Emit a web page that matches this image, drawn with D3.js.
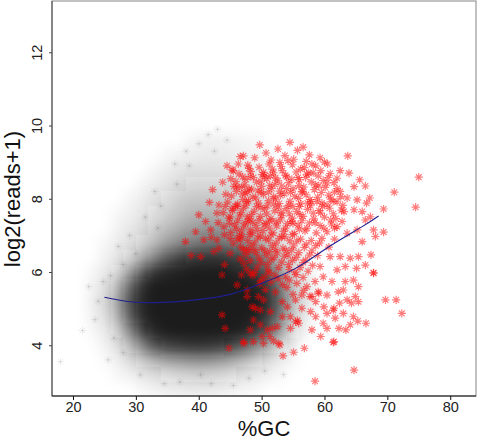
<!DOCTYPE html>
<html><head><meta charset="utf-8">
<script src="https://cdn.jsdelivr.net/npm/d3@7"></script>
<style>
body{margin:0;background:#fff}
svg{display:block}
text{font-family:"Liberation Sans",Arial,Helvetica,sans-serif}
</style>
</head><body>
<svg id="c" width="486" height="440"></svg>
<script>
// ---- data ----
const xTicks = [20, 30, 40, 50, 60, 70, 80];
const yTicks = [4, 6, 8, 10, 12];
const xLabel = "%GC";
const yLabel = "log2(reads+1)";

// density of the dense black cloud (percent darkness), binned by %GC and log2(reads+1)
const gcBins = [23, 25, 27, 29, 31, 33, 35, 37, 39, 41, 43, 45, 47, 49, 51, 53, 55, 57, 59];
const readBins = [2.8, 3.2, 3.6, 4.0, 4.4, 4.8, 5.2, 5.6, 6.0, 6.4, 6.8, 7.2, 7.6, 8.0, 8.4, 8.8, 9.2, 9.6];
const blackDensity = [
  [0,0,0,0,3,5,7,8,9,9,8,6,4,3,0,0,0,0,0],
  [0,0,3,6,10,14,17,20,22,22,20,17,13,9,6,3,0,0,0],
  [0,2,6,14,25,35,42,45,48,48,45,40,32,24,15,8,3,0,0],
  [0,5,12,30,55,75,85,88,90,90,88,82,72,55,38,20,8,0,0],
  [3,8,22,50,82,96,100,100,100,100,100,100,98,90,72,42,16,5,0],
  [5,12,32,70,95,100,100,100,100,100,100,100,100,98,88,58,25,8,0],
  [6,15,38,75,96,100,100,100,100,100,100,100,100,100,92,65,30,10,3],
  [5,12,30,65,92,100,100,100,100,100,100,100,100,97,88,60,28,10,3],
  [3,8,18,40,70,90,96,98,100,100,100,98,95,88,70,42,20,8,0],
  [0,5,10,20,35,55,72,82,88,90,90,88,80,66,48,28,14,5,0],
  [0,3,7,12,20,30,42,50,58,62,62,58,50,40,28,16,8,3,0],
  [0,0,5,9,14,22,30,36,42,45,45,42,36,28,20,12,6,0,0],
  [0,0,3,6,10,16,22,28,32,34,33,30,25,20,14,8,4,0,0],
  [0,0,0,4,7,12,17,22,25,25,25,22,18,14,10,6,3,0,0],
  [0,0,0,0,4,7,11,15,18,18,18,15,12,10,7,4,0,0,0],
  [0,0,0,0,0,4,7,10,12,12,12,10,9,7,5,3,0,0,0],
  [0,0,0,0,0,0,3,5,7,8,8,7,6,5,3,0,0,0,0],
  [0,0,0,0,0,0,0,0,4,6,6,5,4,3,0,0,0,0,0]
];

// sparse black genes around the dense cloud [%GC, log2(reads+1)]
const blackOutliers = [
  [18,3.55],[25.6,3.6],[30.7,3.19],[40.3,3.19],[24.8,5.74],[41.5,9.75],[36.2,8.95],
  [31.5,7.5],[27.2,6.7],[23.5,4.7],[22.5,5.6],[34.5,2.95],[45.5,2.9],[50.5,3.3],
  [53.5,3.2],[43,9.9],[38,9.3],[29,7.0],[21.5,4.4],[33,8.2],
  [34,7.8],[36.5,8.4],[38.5,8.9],[40,9.5],[42.5,9.3],[44.5,9.6],[33.5,7.2],[30,6.5],
  [28,6.2],[26,5.9],[24,5.2],[26.5,4.2],[28,3.8],[37,3.0],[42,2.95],[48,3.1]
];

// highlighted (red) genes [%GC, log2(reads+1)]
const redPoints = [
  [49.7,9.47],[54.5,9.54],[52.6,9.36],[56.6,9.41],[55.7,9.32],[57.6,9.2],[47.1,9.17],[51.5,9.06],
  [54.2,9.04],[52.9,8.99],[58.0,8.95],[60.0,9.0],[60.5,8.95],[63.7,9.17],[45.5,8.77],[50.3,8.72],
  [48.2,8.61],[51.7,8.81],[56.2,8.81],[57.5,8.7],[59.4,8.77],[62.5,8.77],[63.9,8.7],[62.0,8.56],
  [65.6,8.52],[66.5,8.35],[64.7,8.33],[60.4,8.43],[58.6,8.38],[62.5,8.2],[67.2,8.02],[66.7,7.88],
  [65.2,7.97],[63.6,8.02],[62.0,7.92],[66.0,7.65],[64.7,7.7],[63.1,7.65],[67.3,7.51],[66.5,7.42],
  [67.8,7.15],[65.2,7.15],[68.1,6.97],[66.0,6.83],[63.6,7.06],[62.0,7.24],[61.0,7.42],[59.4,7.61],
  [58.8,7.92],[60.4,7.83],
  [75.0,8.59],[71.1,8.18],[74.5,7.77],[69.4,7.72],[69.4,7.09],[69.7,5.24],[71.4,5.24],[72.3,4.87],
  [58.5,3.02],[64.7,3.32],[56.8,3.92],[55.1,3.81],[53.4,3.71],[61.4,4.08],[66.6,4.6],
  [65.4,6.42],[67.4,6.47],[66.5,6.19],[67.8,5.97],[65.1,6.1],[64.6,5.78],[63.3,5.74],[65.4,5.6],
  [63.0,5.51],[64.9,5.33],[63.6,5.24],[62.2,5.46],[64.3,5.15],[62.4,5.15],[65.4,5.19],[60.4,5.37],
  [61.2,5.74],[62.0,6.06],[63.3,6.15],[64.1,6.38],[62.5,6.42],[60.9,6.42],[59.3,6.15],[59.8,5.87],
  [58.5,5.74],[59.0,5.46],[57.7,5.33],[61.4,4.96],[63.0,4.87],[60.4,4.87],[64.6,4.78],
  [65.3,4.66],[61.5,4.1],[52.9,4.01],[51.9,4.12],[51.3,4.24],[50.1,4.24],[48.7,4.1],[47.1,4.1],
  [48.2,4.42],[48.7,4.69],[58.0,4.42],[59.4,4.24],[60.4,4.46],[62.3,4.46],[63.4,4.42],[64.1,4.56],
  [61.7,4.74],[59.8,4.6],[58.6,4.78],[59.9,5.05],[61.5,5.01],[57.8,4.92],[55.4,4.64],[55.7,4.68],
  [55.9,4.6],[54.6,4.46],[56.4,5.01],[56.4,5.37],[58.0,5.33],[59.1,5.42],[58.6,5.19],[57.2,5.6],
  [55.6,5.69],[54.1,5.05],[53.3,5.19],[53.3,4.78],[52.5,4.51],[50.9,4.42],[49.8,4.56],[48.5,5.05],
  [49.8,4.96],[51.4,4.92],[49.5,5.33],[54.6,4.78],[47.7,5.33],[55.4,5.24],[67.8,5.98],
  [43.7,4.83],[44.2,4.46],[44.8,3.92],[47.2,4.05],[49.0,5.01],[50.3,5.24],[47.7,5.51],[43.7,5.92],
  [48.2,5.97],[46.1,5.65],[52.7,4.05],[50.3,4.05],[51.7,4.46],
  [37.9,6.83],[40.0,7.56],[41.1,7.38],[43.2,7.83],[44.2,7.79],[42.9,7.61],[41.9,7.15],[44.0,7.24],
  [45.0,7.51],[46.1,7.79],[46.1,8.33],[47.4,8.15],[40.8,6.88],[42.9,6.88],[45.0,6.92],[40.3,6.42],
  [42.4,6.56],[45.0,6.51],[47.2,6.24],[46.6,6.88],[48.2,7.15],[47.7,7.51],[46.6,9.15],[45.3,8.79],
  [47.8,8.92],[49.6,8.86],[51.2,8.95],[53.1,8.88],[54.9,8.93],[56.8,8.85],[58.6,8.9],
  [46.4,8.68],[48.3,8.74],[50.1,8.66],[51.9,8.71],[53.8,8.64],[55.5,8.73],[57.2,8.67],[59.0,8.62],[60.9,8.69],
  [45.9,8.47],[47.5,8.53],[49.2,8.45],[50.8,8.55],[52.6,8.49],[54.3,8.44],[56.0,8.52],[57.9,8.46],[59.8,8.5],[61.5,8.44],
  [46.8,8.31],[48.4,8.26],[50.0,8.34],[51.6,8.28],[53.2,8.35],[55.0,8.27],[56.7,8.32],[58.4,8.25],[60.1,8.31],[62.0,8.28],
  [45.2,8.08],[46.9,8.13],[48.6,8.05],[50.3,8.12],[51.9,8.06],[53.6,8.14],[55.3,8.07],[57.1,8.11],[58.9,8.04],[60.7,8.1],[62.6,8.06],
  [44.6,7.91],[46.2,7.86],[47.9,7.94],[49.5,7.88],[51.1,7.95],[52.8,7.87],[54.5,7.93],[56.2,7.86],[57.9,7.92],[59.6,7.88],[61.4,7.93],
  [45.4,7.68],[47.1,7.74],[48.8,7.66],[50.5,7.72],[52.1,7.67],[53.9,7.73],[55.6,7.65],[57.3,7.71],[59.1,7.68],[60.8,7.74],[62.7,7.69],
  [44.8,7.47],[46.5,7.53],[48.1,7.45],[49.8,7.52],[51.5,7.46],[53.2,7.54],[54.9,7.47],[56.6,7.52],[58.3,7.45],[60.0,7.5],[61.8,7.46],
  [45.7,7.29],[47.4,7.34],[49.1,7.27],[50.7,7.33],[52.4,7.26],[54.1,7.32],[55.8,7.28],[57.6,7.34],[59.3,7.27],[61.1,7.31],
  [45.1,7.08],[46.8,7.12],[48.5,7.06],[50.2,7.13],[51.8,7.07],[53.5,7.11],[55.2,7.05],[56.9,7.12],[58.7,7.07],[60.4,7.1],
  [46.1,6.91],[47.8,6.86],[49.4,6.93],[51.1,6.87],[52.8,6.92],[54.5,6.85],[56.2,6.9],[57.9,6.86],[59.6,6.92],
  [46.7,6.68],[48.3,6.73],[50.0,6.66],[51.7,6.72],[53.4,6.65],[55.1,6.71],[56.8,6.67],[58.6,6.72],
  [47.5,6.48],[49.1,6.53],[50.8,6.46],[52.5,6.52],[54.2,6.47],[55.9,6.53],[57.6,6.46],
  [48.2,6.31],[49.9,6.26],[51.5,6.33],[53.2,6.27],[54.9,6.32],[56.6,6.26],
  [47.6,6.08],[49.3,6.13],[51.0,6.06],[52.7,6.12],[54.4,6.07],[56.1,6.12],
  [48.6,5.91],[50.4,5.86],[52.1,5.92],[53.8,5.87],[55.5,5.93],
  [49.7,5.68],[51.5,5.73],[53.3,5.66],
  [47.0,8.6],[48.7,8.58],[50.5,8.62],[52.2,8.57],[54.0,8.6],[55.8,8.58],
  [46.0,8.2],[47.7,8.18],[49.4,8.22],[51.1,8.19],[52.9,8.21],[54.6,8.17],[56.4,8.2],
  [45.8,7.8],[47.5,7.82],[49.2,7.79],[50.9,7.81],[52.6,7.78],[54.3,7.82],[56.0,7.79],[57.8,7.81],
  [46.2,7.4],[47.9,7.38],[49.6,7.41],[51.3,7.39],[53.0,7.42],[54.7,7.38],[56.4,7.4],
  [46.5,7.0],[48.1,7.02],[49.8,6.98],[51.5,7.01],[53.2,6.97],[54.9,7.02],
  [47.1,6.6],[48.8,6.62],[50.5,6.58],[52.2,6.61],[53.9,6.59],
  [46.3,8.95],[48.9,9.12],[50.7,9.25],[53.7,9.18],[55.1,9.08],[57.1,9.02],[59.3,9.12],
  [45.1,8.55],[47.3,8.38],[48.0,8.83],[49.9,8.48],[51.4,8.63],[52.1,8.39],[53.3,8.77],[54.8,8.53],
  [55.9,8.36],[57.0,8.58],[58.2,8.71],[59.1,8.35],[60.6,8.58],
  [44.3,8.12],[45.6,8.34],[47.0,7.98],[48.0,8.27],[49.1,8.02],[49.9,8.19],[51.3,8.37],[52.2,7.99],
  [53.0,8.09],[54.0,8.28],[55.9,8.01],[56.5,8.18],[57.7,7.98],[59.5,8.17],[61.0,7.99],[61.6,8.18],
  [43.9,7.62],[45.3,7.72],[46.7,7.62],[47.6,7.93],[48.4,7.57],[49.9,7.76],[50.8,7.58],[51.9,7.85],
  [53.1,7.63],[54.4,7.59],[55.0,7.79],[56.1,7.57],[57.3,7.88],[58.2,7.61],[59.7,7.79],[61.4,7.59],[62.9,7.82],
  [44.1,7.02],[44.9,7.33],[46.0,7.18],[47.2,7.25],[48.6,7.36],[49.3,7.14],[50.4,7.29],[51.2,7.2],
  [52.3,7.37],[53.8,7.2],[55.0,7.33],[56.0,7.17],[57.2,7.2],[58.5,7.35],[59.9,7.2],[61.6,7.2],[62.8,7.38],
  [45.5,6.78],[46.9,6.97],[47.6,6.62],[48.9,6.8],[50.6,6.92],[51.3,6.56],[52.3,6.79],[53.7,6.96],
  [54.8,6.6],[55.6,6.84],[57.1,6.76],[58.0,6.58],[59.2,6.79],[60.7,6.68],[61.6,6.9],
  [46.6,6.36],[48.0,6.58],[49.6,6.38],[50.9,6.21],[52.0,6.4],[53.6,6.43],[54.3,6.2],[55.5,6.4],
  [57.0,6.33],[58.1,6.18],[58.9,6.45],
  [46.8,5.92],[48.9,5.99],[49.9,5.77],[51.2,5.97],[52.6,5.82],[54.4,5.78],[55.3,6.0],[56.6,5.85],[57.4,6.02],
  [50.6,5.52],[52.2,5.45],[54.0,5.58],[55.0,5.39],[56.7,5.5],
  [42.2,8.25],[43.8,8.45],[44.5,8.9],[41.7,7.9],[43.1,7.35],[42.0,6.95],[39.5,7.1],[38.8,6.45],[44.1,6.2],[43.2,6.65]
];

// loess trend
const trendGC = [25, 29, 34, 39.5, 45, 50, 55.4, 60.7, 66, 68.6];
const trendReads = [5.31, 5.19, 5.17, 5.24, 5.39, 5.69, 6.10, 6.69, 7.24, 7.53];

// ---- drawing ----
const svg = d3.select("#c");
const L = 52, R = 476, T = 1, B = 396;
const x = d3.scaleLinear().domain([16.66, 84.1]).range([L, R]);
const y = d3.scaleLinear().domain([2.615, 13.4]).range([B, T]);

const defs = svg.append("defs");
defs.append("clipPath").attr("id", "clip")
  .append("rect").attr("x", L).attr("y", T).attr("width", R - L).attr("height", B - T);
defs.append("filter").attr("id", "soft")
  .attr("x", "-30%").attr("y", "-30%").attr("width", "160%").attr("height", "160%")
  .append("feGaussianBlur").attr("stdDeviation", 5.8);

const plot = svg.append("g").attr("clip-path", "url(#clip)");

// dense black cloud: cells tile exactly (no overlap seams), softened by a blur
const gcHalf = (gcBins[1] - gcBins[0]) / 2;
const rHalf = (readBins[1] - readBins[0]) / 2;
const cells = [];
blackDensity.forEach((row, i) => row.forEach((v, j) => {
  if (v > 0) cells.push({gc: gcBins[j], r: readBins[i], v});
}));
const op = d3.scaleLinear().domain([0, 100]).range([0, 1]);
plot.append("g").attr("filter", "url(#soft)")
  .selectAll("rect").data(cells).join("rect")
  .attr("x", d => x(d.gc - gcHalf))
  .attr("y", d => y(d.r + rHalf))
  .attr("width", d => x(d.gc + gcHalf) - x(d.gc - gcHalf))
  .attr("height", d => y(d.r - rHalf) - y(d.r + rHalf))
  .attr("shape-rendering", "crispEdges")
  .attr("fill", "#1c1c1c")
  .attr("fill-opacity", d => op(d.v));

function star(r) {
  const a = r * 0.7071;
  return `M${-r},0L${r},0M0,${-r}L0,${r}M${-a},${-a}L${a},${a}M${-a},${a}L${a},${-a}`;
}

plot.append("g").selectAll("path").data(blackOutliers).join("path")
  .attr("d", star(4))
  .attr("transform", d => `translate(${x(d[0])},${y(d[1])})`)
  .attr("fill", "none").attr("stroke", "#000").attr("stroke-opacity", 0.07).attr("stroke-width", 1);

plot.append("g").selectAll("path").data(redPoints).join("path")
  .attr("d", star(4.1))
  .attr("transform", d => `translate(${x(d[0])},${y(d[1])})`)
  .attr("fill", "none").attr("stroke", "#ff0000").attr("stroke-opacity", 0.52).attr("stroke-width", 1.15);

const trend = trendGC.map((g, i) => [g, trendReads[i]]);
plot.append("path").datum(trend)
  .attr("d", d3.line().x(d => x(d[0])).y(d => y(d[1])).curve(d3.curveNatural))
  .attr("fill", "none").attr("stroke", "#1f1f8f").attr("stroke-width", 1.1);

// frame
svg.append("rect").attr("x", L).attr("y", T).attr("width", R - L).attr("height", B - T)
  .attr("fill", "none").attr("stroke", "#9a9a9a").attr("stroke-width", 1.2);
svg.append("line").attr("x1", L).attr("x2", L).attr("y1", T).attr("y2", B)
  .attr("stroke", "#6a6a6a").attr("stroke-width", 1.4);
svg.append("line").attr("x1", L).attr("x2", R).attr("y1", B).attr("y2", B)
  .attr("stroke", "#111").attr("stroke-width", 1.2);

// axes
const ax = svg.append("g").attr("transform", `translate(0,${B})`)
  .call(d3.axisBottom(x).tickValues(xTicks).tickSize(4).tickFormat(d3.format("d")));
ax.select(".domain").remove();
ax.selectAll("line").attr("stroke", "#111");
ax.selectAll("text").attr("y", 16).attr("dy", 0)
  .attr("font-size", 14.5).attr("fill", "#222")
  .style("font-family", '"Liberation Sans", Arial, sans-serif');

const ay = svg.append("g").attr("transform", `translate(${L},0)`)
  .call(d3.axisLeft(y).tickValues(yTicks).tickSize(3).tickFormat(d3.format("d")));
ay.select(".domain").remove();
ay.selectAll("line").attr("stroke", "#444");
ay.selectAll("text").attr("x", 0).attr("dy", 0)
  .attr("text-anchor", "middle")
  .attr("transform", "translate(-10,0) rotate(-90)")
  .attr("font-size", 14.5).attr("fill", "#222")
  .style("font-family", '"Liberation Sans", Arial, sans-serif');

svg.append("text").attr("x", 264).attr("y", 435.5).attr("text-anchor", "middle")
  .attr("font-size", 22).attr("fill", "#111").text(xLabel);
svg.append("text").attr("transform", "translate(20,199) rotate(-90)").attr("text-anchor", "middle")
  .attr("font-size", 22).attr("fill", "#111").text(yLabel);
</script>
</body></html>
